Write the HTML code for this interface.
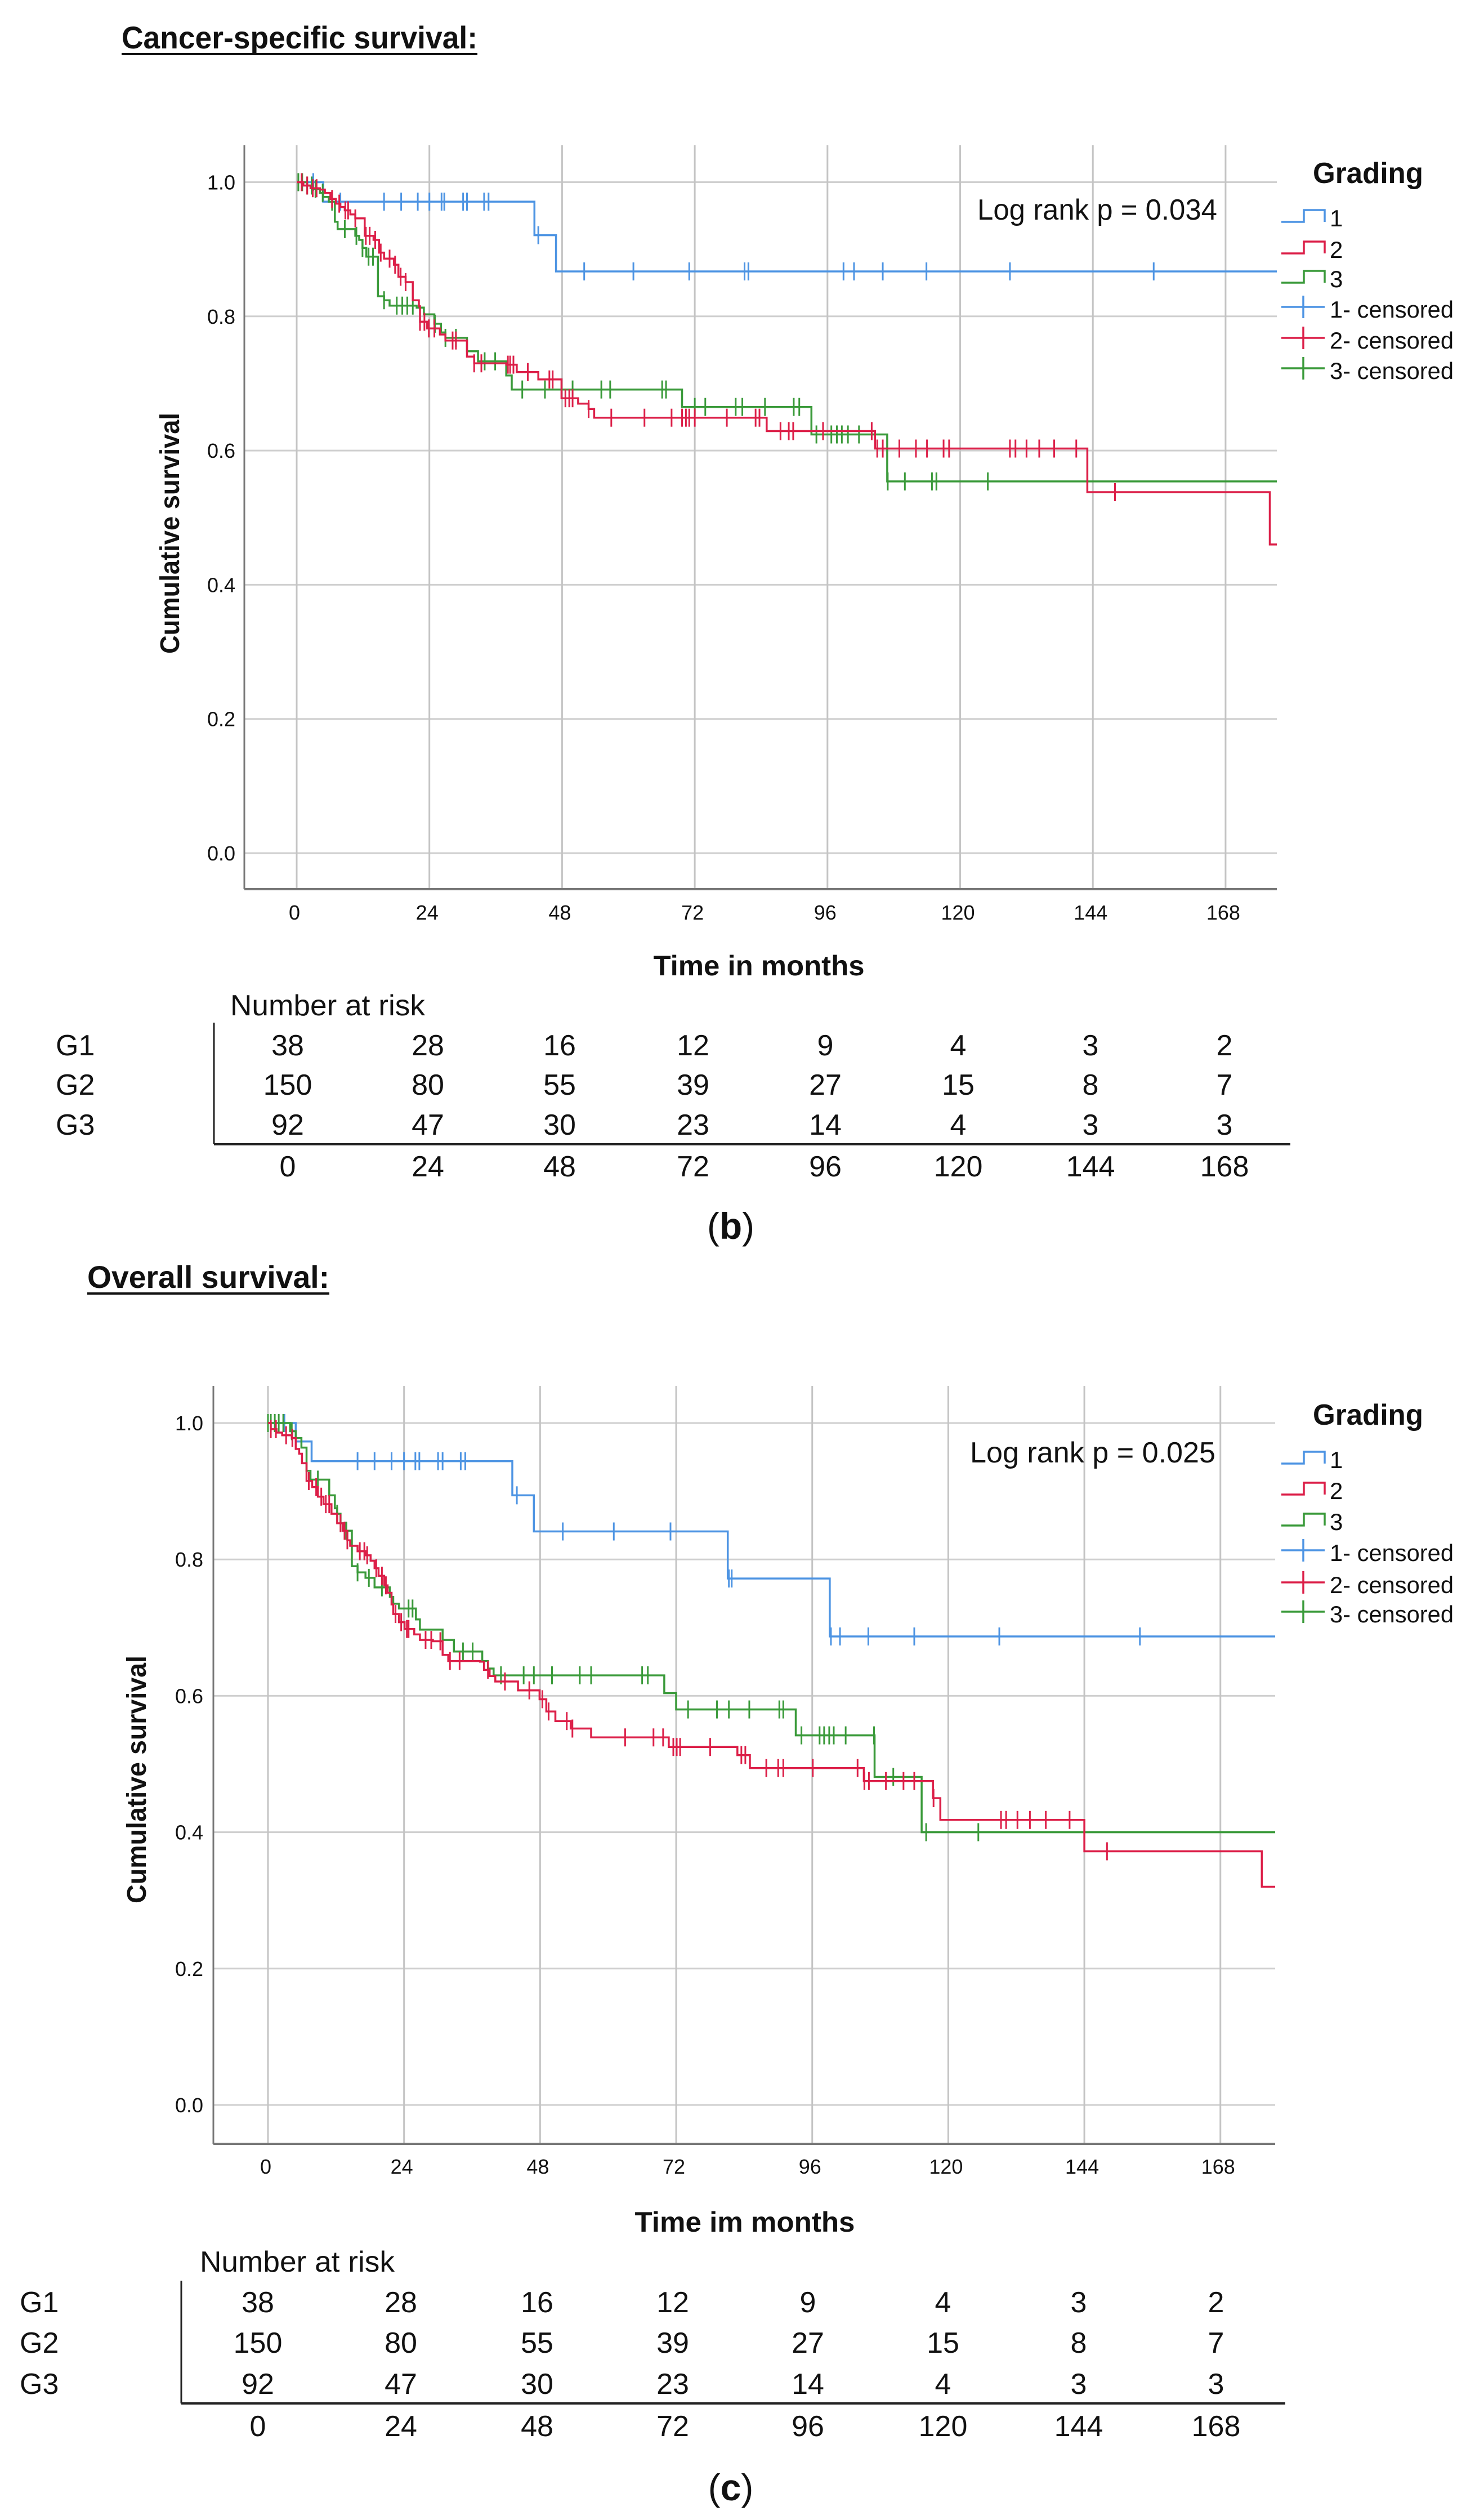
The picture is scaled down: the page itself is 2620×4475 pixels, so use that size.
<!DOCTYPE html>
<html>
<head>
<meta charset="utf-8">
<style>
html,body{margin:0;padding:0;background:#fff;}
svg{display:block;}
text{font-family:"Liberation Sans",sans-serif;fill:#111;}
</style>
</head>
<body>
<svg id="fig" width="2620" height="4475" viewBox="0 0 2620 4475" xmlns="http://www.w3.org/2000/svg">
<rect x="0" y="0" width="2620" height="4475" fill="#fff"/>
<g id="chart1"></g>
<g id="chart2"></g>
</svg>
<script>
// ---------- Chart 1: Cancer-specific survival ----------
const xTicks = [0, 24, 48, 72, 96, 120, 144, 168];
const yTicks = [0.0, 0.2, 0.4, 0.6, 0.8, 1.0];
const yTickLabels = ["0.0", "0.2", "0.4", "0.6", "0.8", "1.0"];
const riskTimes = [0, 24, 48, 72, 96, 120, 144, 168];
const riskG1 = [38, 28, 16, 12, 9, 4, 3, 2];
const riskG2 = [150, 80, 55, 39, 27, 15, 8, 7];
const riskG3 = [92, 47, 30, 23, 14, 4, 3, 3];

const csBlueT = [4.8, 43, 46.9];
const csBlueV = [0.971, 0.921, 0.867];
const csBlueC = [3,7.9,15.8,18.9,21.9,24,26.2,26.7,30.1,30.8,33.9,34.7,43.7,52,60.9,71,81,81.7,98.9,100.8,106,113.9,129,155];
const csRedT = [1.2,2.5,4.2,5.1,6.1,7.1,7.9,8.7,9.7,10.6,12.3,13.9,14.9,15.8,17.6,18.4,19.7,21,22.1,22.3,23.6,25.9,26.9,30.8,32.1,37.9,39.8,43.7,47.9,50.9,52.8,53.8,85,104.6,143,176];
const csRedV = [0.995,0.991,0.989,0.984,0.975,0.968,0.963,0.958,0.952,0.946,0.920,0.914,0.895,0.886,0.877,0.859,0.851,0.824,0.815,0.792,0.782,0.773,0.764,0.74,0.73,0.728,0.717,0.706,0.678,0.670,0.662,0.649,0.629,0.603,0.538,0.46];
const csRedC = [0.9,1.9,2.9,3.6,6.4,7.7,8.8,9.3,10.6,12.5,13.2,14.2,15.2,16.8,17.8,18.8,19.7,22.3,23.1,23.9,24.9,28.2,28.8,32.1,33.4,38.2,38.6,39.2,41.8,45.7,46.3,48.6,49.3,49.9,52.8,56.9,62.9,67.8,69.7,70.4,71,72,77.8,83,83.7,87.5,89,89.8,95.2,104,105,106,109,112,114,117,118,129,130,132,134.3,137,141,148];
const csGreenT = [1.9,2.9,4.2,4.8,5.8,6.9,7.4,10.6,11.3,11.9,12.6,14.7,15.8,16.8,21.7,23,24.9,26.1,26.9,30.8,32.8,37.9,38.9,69.7,93.1,106.8];
const csGreenV = [0.995,0.99,0.984,0.978,0.971,0.941,0.930,0.920,0.914,0.902,0.889,0.83,0.824,0.816,0.813,0.803,0.789,0.776,0.768,0.748,0.733,0.712,0.691,0.665,0.624,0.554];
const csGreenC = [0.3,1,1.9,2.7,3.4,4.7,6.4,8.7,10.8,11.9,13,13.8,15.8,18.1,19.1,20,21,25,26.9,28.8,34,35.9,40.8,44.9,49.9,55.1,56.7,66.1,66.8,72,73.9,79.4,80.6,84.7,89.9,90.9,94,96.7,97.7,98.6,99.7,101.7,106.9,110,114.9,115.7,125];

// ---------- Chart 2: Overall survival ----------
const osBlueT = [4.9, 7.7, 43.1, 46.9, 81.1, 99.1];
const osBlueV = [0.973, 0.944, 0.894, 0.841, 0.772, 0.687];
const osBlueC = [2.9,15.8,18.8,21.8,24,26,26.7,30,30.8,34,34.8,43.9,52,61,71,81.3,81.8,99.3,100.9,105.9,114,129,153.8];
const osRedT = [0.5,1.5,2.5,4.2,4.9,5.5,6,6.8,7.8,8.8,9.8,11.2,12.2,13.2,14,14.5,15.8,17.2,18.1,18.8,19.5,20.5,21.1,21.8,22.1,23.1,24.1,25.8,26.8,29.1,30.8,31.8,37.4,38.1,39.1,40.1,44.1,47.9,49.1,50.7,53.4,57,70.7,82.8,85,105.1,117.3,118.6,144,175.3];
const osRedV = [0.991,0.986,0.982,0.978,0.962,0.955,0.941,0.915,0.906,0.892,0.881,0.867,0.853,0.842,0.828,0.82,0.812,0.806,0.798,0.787,0.776,0.762,0.751,0.734,0.72,0.708,0.698,0.69,0.682,0.68,0.66,0.651,0.65,0.638,0.629,0.621,0.608,0.595,0.577,0.563,0.552,0.539,0.525,0.513,0.494,0.475,0.45,0.418,0.372,0.32];
const osRedC = [0.5,1.4,3.2,4.3,7.2,8.5,9.4,10.2,10.8,12.8,13.5,14,16.2,17,17.5,19.1,20.1,20.8,22.5,23.5,24.5,24.8,27.8,28.8,30.4,32.1,33.8,38.8,41.8,46.1,48.4,49.5,52.7,53.7,63,68,69.7,71.5,72.1,72.7,78,83.5,84.2,87.9,90,90.9,96.1,104,105.2,106,109,112.1,114,117.4,129.3,130.2,132.2,134.4,137.2,141.4,148];
const osGreenT = [3.9,4.9,5.9,6.8,7.5,10.8,11.8,12.2,12.8,13.8,14.8,15.8,17.2,18.8,21.5,22.1,23.1,26.1,26.8,30.8,32.8,37.8,38.8,39.8,69.9,72,93.1,107,115.3];
const osGreenV = [0.988,0.978,0.964,0.93,0.917,0.894,0.875,0.867,0.853,0.842,0.79,0.781,0.773,0.759,0.745,0.735,0.728,0.712,0.697,0.682,0.665,0.651,0.64,0.63,0.604,0.58,0.542,0.481,0.40];
const osGreenC = [0,0.5,1.2,1.9,2.7,4.2,8.8,12.2,12.8,13.8,15.8,17.8,20.1,24.8,25.5,34.4,36.1,41.1,45.1,46.9,50.1,55,57,66,67,74.1,79.2,81.3,84.9,90.2,90.9,94.1,97.3,98.1,99,99.8,101.9,106.9,110.3,116.1,125.3];

const COLORS = {g1:"#4d94e3", g2:"#dc1f48", g3:"#3a9a3a"};
const NS = "http://www.w3.org/2000/svg";

function mk(parent, tag, attrs, txt){
  const e = document.createElementNS(NS, tag);
  for (const k in attrs) e.setAttribute(k, attrs[k]);
  if (txt !== undefined) e.textContent = txt;
  parent.appendChild(e);
  return e;
}
function stepValue(ts, vs, t){
  let v = 1;
  for (let i=0;i<ts.length;i++){ if (ts[i] <= t) v = vs[i]; }
  return v;
}

function drawChart(g, cfg){
  const X = m => cfg.x0 + m*cfg.ppm;
  const Y = v => cfg.y0 - v*cfg.ppv;
  const endM = (cfg.right - cfg.x0)/cfg.ppm;

  // title
  const t = mk(g,'text',{x:cfg.titleX,y:cfg.titleY,'font-size':56,'font-weight':'bold',textLength:cfg.titleW,lengthAdjust:'spacingAndGlyphs'},cfg.title);
  
  
  const u = mk(g,'line',{x1:cfg.titleX,x2:cfg.titleX+cfg.titleW,y1:cfg.titleY+10,y2:cfg.titleY+10,stroke:'#111','stroke-width':4});
  
  

  // gridlines
  yTicks.forEach((v,i)=>{
    const l = mk(g,'line',{x1:cfg.left,x2:cfg.right,y1:Y(v),y2:Y(v),stroke:'#cfcfcf','stroke-width':3});
    
    
    const tl = mk(g,'text',{x:cfg.ytickX,y:Y(v)+13,'font-size':36,'text-anchor':'end',fill:'#333'},yTickLabels[i]);
    
    
  });
  xTicks.forEach(m=>{
    const l = mk(g,'line',{x1:X(m),x2:X(m),y1:cfg.top,y2:cfg.bottom,stroke:'#c4c4c4','stroke-width':3});
    
    
    const tl = mk(g,'text',{x:X(m)-4,y:cfg.xtickY,'font-size':36,'text-anchor':'middle',fill:'#333'},String(m));
    
    
  });
  // axes
  const ax = mk(g,'line',{x1:cfg.left,x2:cfg.left,y1:cfg.top,y2:cfg.bottom,stroke:'#777','stroke-width':3});
  
  
  const bx = mk(g,'line',{x1:cfg.left,x2:cfg.right,y1:cfg.bottom,y2:cfg.bottom,stroke:'#777','stroke-width':4});
  
  

  // series
  cfg.series.forEach(s=>{
    let d = 'M'+X(0)+','+Y(1);
    for (let i=0;i<s.t.length;i++){ d += ' H'+X(s.t[i]).toFixed(1)+' V'+Y(s.v[i]).toFixed(1); }
    d += ' H'+X(endM).toFixed(1);
    const p = mk(g,'path',{d:d,fill:'none',stroke:s.color,'stroke-width':3.5});
    
    
    s.c.forEach(cm=>{
      const cy = Y(stepValue(s.t,s.v,cm));
      const c = mk(g,'line',{x1:X(cm),x2:X(cm),y1:cy-16,y2:cy+16,stroke:s.color,'stroke-width':3});
      
      
    });
  });

  // log rank
  const lr = mk(g,'text',{x:cfg.lrX,y:cfg.lrY,'font-size':52,textLength:cfg.lrW,lengthAdjust:'spacingAndGlyphs'},cfg.logrank);
  
  

  // legend
  const lg = mk(g,'text',{x:2430,y:cfg.legTitleY,'font-size':52,'font-weight':'bold','text-anchor':'middle',textLength:196,lengthAdjust:'spacingAndGlyphs'},'Grading');
  
  
  const labels = ['1','2','3','1- censored','2- censored','3- censored'];
  const cols = [COLORS.g1,COLORS.g2,COLORS.g3,COLORS.g1,COLORS.g2,COLORS.g3];
  labels.forEach((lab,i)=>{
    const b = cfg.legBase[i];
    let sym;
    if (i<3){
      sym = mk(g,'path',{d:'M2276,'+(b-8)+' H2316 V'+(b-29)+' H2353 V'+(b-8),fill:'none',stroke:cols[i],'stroke-width':3.5});
    } else {
      sym = mk(g,'path',{d:'M2276,'+(b-19)+' H2353 M2315,'+(b-39)+' V'+(b+1),fill:'none',stroke:cols[i],'stroke-width':3.5});
    }
    
    
    const tx = mk(g,'text',{x:2362,y:b,'font-size':42},lab);
    if (i>=3){ tx.setAttribute('textLength',220); tx.setAttribute('lengthAdjust','spacingAndGlyphs'); }
    
    
  });

  // axis titles
  const xt = mk(g,'text',{x:cfg.xTitleX,y:cfg.xTitleY,'font-size':50,'font-weight':'bold','text-anchor':'middle',textLength:cfg.xTitleW,lengthAdjust:'spacingAndGlyphs'},cfg.xTitle);
  
  
  const yt = mk(g,'text',{x:0,y:0,'font-size':48,'font-weight':'bold','text-anchor':'middle',textLength:cfg.yTitleL,lengthAdjust:'spacingAndGlyphs',transform:'translate('+cfg.yTitleX+','+cfg.yTitleY+') rotate(-90)'},'Cumulative survival');
  
  

  // risk table
  const nr = mk(g,'text',{x:cfg.nrX,y:cfg.nrY,'font-size':52,textLength:346,lengthAdjust:'spacingAndGlyphs'},'Number at risk');
  
  
  const rows = [['G1',riskG1],['G2',riskG2],['G3',riskG3]];
  rows.forEach((r,ri)=>{
    const rl = mk(g,'text',{x:cfg.rowLabelX,y:cfg.rowY[ri],'font-size':52},r[0]);
    
    
    r[1].forEach((n,ci)=>{
      const c = mk(g,'text',{x:cfg.colX[ci],y:cfg.rowY[ri],'font-size':52,'text-anchor':'middle'},String(n));
      
      
    });
  });
  riskTimes.forEach((m,ci)=>{
    const c = mk(g,'text',{x:cfg.colX[ci],y:cfg.rowY[3],'font-size':52,'text-anchor':'middle'},String(m));
    
    
  });
  const vl = mk(g,'line',{x1:cfg.tblX,x2:cfg.tblX,y1:cfg.tblTop,y2:cfg.tblLineY,stroke:'#222','stroke-width':3});
  
  
  const hl = mk(g,'line',{x1:cfg.tblX,x2:cfg.tblRight,y1:cfg.tblLineY,y2:cfg.tblLineY,stroke:'#222','stroke-width':4});
  
  

  // panel letter
  const pl = mk(g,'text',{x:1298,y:cfg.letterY,'font-size':66,'text-anchor':'middle','font-family':'Liberation Serif, serif'});
  
  
  mk(pl,'tspan',{},'(');
  mk(pl,'tspan',{'font-weight':'bold'},cfg.letter);
  mk(pl,'tspan',{},')');
}

drawChart(document.getElementById('chart1'), {
  title:'Cancer-specific survival:', titleX:216, titleY:86, titleW:632,
  x0:527, ppm:9.821, y0:1515, ppv:1191.5,
  left:434, top:258, right:2268, bottom:1579,
  ytickX:418, xtickY:1633,
  logrank:'Log rank p = 0.034', lrX:1736, lrY:390, lrW:426,
  legTitleY:325, legBase:[402,458,510,564,619,673],
  xTitle:'Time in months', xTitleX:1348, xTitleY:1732, xTitleW:375,
  yTitleX:318, yTitleY:947, yTitleL:428,
  nrX:409, nrY:1803, rowLabelX:99, rowY:[1874,1944,2015,2089],
  colX:[511,760,994,1231,1466,1702,1937,2175],
  tblX:380, tblTop:1816, tblLineY:2032, tblRight:2292,
  letter:'b', letterY:2200,
  series:[
    {name:'grade-1',color:COLORS.g1,t:csBlueT,v:csBlueV,c:csBlueC},
    {name:'grade-3',color:COLORS.g3,t:csGreenT,v:csGreenV,c:csGreenC},
    {name:'grade-2',color:COLORS.g2,t:csRedT,v:csRedV,c:csRedC}
  ]
});

drawChart(document.getElementById('chart2'), {
  title:'Overall survival:', titleX:155, titleY:2287, titleW:430,
  x0:476, ppm:10.07, y0:3738, ppv:1211,
  left:379, top:2461, right:2265, bottom:3807,
  ytickX:361, xtickY:3860,
  logrank:'Log rank p = 0.025', lrX:1723, lrY:2597, lrW:436,
  legTitleY:2530, legBase:[2607,2662,2717,2772,2829,2881],
  xTitle:'Time im months', xTitleX:1323, xTitleY:3963, xTitleW:391,
  yTitleX:259, yTitleY:3160, yTitleL:440,
  nrX:355, nrY:4034, rowLabelX:35, rowY:[4106,4178,4251,4326],
  colX:[458,712,954,1195,1435,1675,1916,2160],
  tblX:322, tblTop:4050, tblLineY:4268, tblRight:2283,
  letter:'c', letterY:4440,
  series:[
    {name:'grade-1',color:COLORS.g1,t:osBlueT,v:osBlueV,c:osBlueC},
    {name:'grade-3',color:COLORS.g3,t:osGreenT,v:osGreenV,c:osGreenC},
    {name:'grade-2',color:COLORS.g2,t:osRedT,v:osRedV,c:osRedC}
  ]
});
</script>
</body>
</html>
